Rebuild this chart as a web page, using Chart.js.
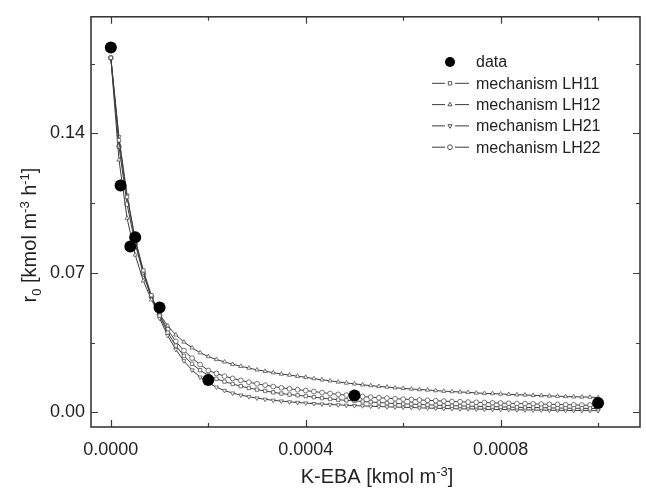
<!DOCTYPE html>
<html>
<head>
<meta charset="utf-8">
<title>r0 vs K-EBA</title>
<script src="https://cdn.jsdelivr.net/npm/chart.js@4.4.1/dist/chart.umd.min.js"></script>
<style>
  html, body { margin: 0; padding: 0; background: #fff; }
  #wrap { width: 646px; height: 488px; }
</style>
</head>
<body>
<div id="wrap"><canvas id="chart" width="646" height="488"></canvas></div>
<script>
// ---------------------------------------------------------------
// measured points (K-EBA, r0)
// ---------------------------------------------------------------
const dataX = [0, 0.00002, 0.00004, 0.00005, 0.0001, 0.0002, 0.0005, 0.001];
const dataY = [0.1832, 0.1139, 0.0833, 0.0879, 0.0526, 0.0162, 0.0084, 0.0046];

// x positions of the model curves (one marker every ~1.67e-5)
const modelX = [
  0, 0.0000167, 0.0000333, 0.00005, 0.0000667, 0.0000833, 0.0001, 0.0001167, 0.0001333, 0.00015,
  0.0001667, 0.0001833, 0.0002, 0.0002167, 0.0002333, 0.00025, 0.0002667, 0.0002833, 0.0003, 0.0003167,
  0.0003333, 0.00035, 0.0003667, 0.0003833, 0.0004, 0.0004167, 0.0004333, 0.00045, 0.0004667, 0.0004833,
  0.0005, 0.0005167, 0.0005333, 0.00055, 0.0005667, 0.0005833, 0.0006, 0.0006167, 0.0006333, 0.00065,
  0.0006667, 0.0006833, 0.0007, 0.0007167, 0.0007333, 0.00075, 0.0007667, 0.0007833, 0.0008, 0.0008167,
  0.0008333, 0.00085, 0.0008667, 0.0008833, 0.0009, 0.0009167, 0.0009333, 0.00095, 0.0009667, 0.0009833,
  0.001
];

// model curves
const lh11 = [
  0.1780, 0.1366, 0.1081, 0.0870, 0.0712, 0.0588, 0.0485, 0.0400, 0.0335, 0.0283,
  0.0243, 0.0211, 0.0185, 0.0168, 0.0154, 0.0142, 0.0131, 0.0122, 0.0114, 0.0107,
  0.0100, 0.0094, 0.0089, 0.0085, 0.0081, 0.0076, 0.0071, 0.0067, 0.0063, 0.0060,
  0.0057, 0.0054, 0.0051, 0.0049, 0.0046, 0.0044, 0.0042, 0.0041, 0.0039, 0.0037,
  0.0036, 0.0034, 0.0033, 0.0032, 0.0031, 0.0030, 0.0029, 0.0028, 0.0027, 0.0026,
  0.0025, 0.0024, 0.0024, 0.0023, 0.0022, 0.0021, 0.0021, 0.0020, 0.0020, 0.0019,
  0.0019
];
const lh12 = [
  0.1780, 0.1268, 0.0975, 0.0790, 0.0660, 0.0565, 0.0492, 0.0434, 0.0389, 0.0353,
  0.0324, 0.0299, 0.0280, 0.0265, 0.0253, 0.0241, 0.0231, 0.0222, 0.0213, 0.0206,
  0.0199, 0.0192, 0.0187, 0.0181, 0.0176, 0.0169, 0.0163, 0.0158, 0.0152, 0.0147,
  0.0143, 0.0138, 0.0134, 0.0130, 0.0127, 0.0123, 0.0120, 0.0117, 0.0114, 0.0112,
  0.0109, 0.0106, 0.0104, 0.0102, 0.0100, 0.0097, 0.0095, 0.0094, 0.0092, 0.0090,
  0.0088, 0.0087, 0.0085, 0.0084, 0.0082, 0.0081, 0.0079, 0.0078, 0.0077, 0.0076,
  0.0074
];
const lh21 = [
  0.1780, 0.1383, 0.1090, 0.0868, 0.0700, 0.0572, 0.0472, 0.0385, 0.0315, 0.0258,
  0.0212, 0.0176, 0.0148, 0.0126, 0.0109, 0.0096, 0.0086, 0.0078, 0.0071, 0.0065,
  0.0060, 0.0056, 0.0052, 0.0049, 0.0046, 0.0043, 0.0041, 0.0039, 0.0037, 0.0035,
  0.0033, 0.0032, 0.0030, 0.0029, 0.0027, 0.0026, 0.0025, 0.0024, 0.0022, 0.0021,
  0.0020, 0.0019, 0.0018, 0.0017, 0.0017, 0.0016, 0.0015, 0.0014, 0.0014, 0.0013,
  0.0012, 0.0012, 0.0011, 0.0011, 0.0010, 0.00097, 0.00093, 0.00089, 0.00085, 0.00081,
  0.00078
];
const lh22 = [
  0.1780, 0.1335, 0.1045, 0.0845, 0.0695, 0.0580, 0.0490, 0.0415, 0.0356, 0.0310,
  0.0272, 0.0240, 0.0210, 0.0195, 0.0181, 0.0170, 0.0160, 0.0151, 0.0143, 0.0136,
  0.0129, 0.0123, 0.0118, 0.0113, 0.0109, 0.0104, 0.0099, 0.0094, 0.0090, 0.0086,
  0.0083, 0.0079, 0.0076, 0.0073, 0.0071, 0.0068, 0.0066, 0.0064, 0.0062, 0.0060,
  0.0058, 0.0056, 0.0054, 0.0053, 0.0051, 0.0050, 0.0049, 0.0047, 0.0046, 0.0045,
  0.0044, 0.0043, 0.0042, 0.0041, 0.0040, 0.0039, 0.0038, 0.0037, 0.0036, 0.0036,
  0.0035
];

const legendLabels = ['data', 'mechanism LH11', 'mechanism LH12', 'mechanism LH21', 'mechanism LH22'];

// tick positions
const xMajor = [0, 0.0004, 0.0008];
const xMinor = [0.0002, 0.0006, 0.001];
const yMajor = [0, 0.07, 0.14];
const yMinor = [0.035, 0.105, 0.175];

const FONT = '"Liberation Sans", Arial, Helvetica, sans-serif';
const INK = '#3a3a3a';

function pairs(xs, ys) {
  return ys.map((v, i) => ({ x: xs[i], y: v }));
}

function modelSet(label, values, style, rotation) {
  return {
    label: label,
    data: pairs(modelX, values),
    borderColor: '#3c3c3c',
    borderWidth: 1,
    pointStyle: style,
    pointRotation: rotation || 0,
    pointRadius: 2.4,
    pointBorderWidth: 0.8,
    pointBorderColor: '#555',
    pointBackgroundColor: '#fff',
    tension: 0,
    order: 1
  };
}

// frame + inward ticks on all four sides
const frameTicks = {
  id: 'frameTicks',
  beforeDatasetsDraw(chart) {
    const { ctx, chartArea: a, scales: { x, y } } = chart;
    ctx.save();
    ctx.strokeStyle = INK;
    ctx.lineWidth = 1.6;
    ctx.strokeRect(a.left, a.top, a.right - a.left, a.bottom - a.top);
    ctx.lineWidth = 1.2;
    ctx.beginPath();
    const xt = (v, len) => {
      const p = Math.round(x.getPixelForValue(v)) + 0.5;
      ctx.moveTo(p, a.bottom); ctx.lineTo(p, a.bottom - len);
      ctx.moveTo(p, a.top); ctx.lineTo(p, a.top + len);
    };
    const yt = (v, len) => {
      const p = Math.round(y.getPixelForValue(v)) + 0.5;
      ctx.moveTo(a.left, p); ctx.lineTo(a.left + len, p);
      ctx.moveTo(a.right, p); ctx.lineTo(a.right - len, p);
    };
    xMajor.forEach(v => xt(v, 7));
    xMinor.forEach(v => xt(v, 4));
    yMajor.forEach(v => yt(v, 7));
    yMinor.forEach(v => yt(v, 4));
    ctx.stroke();
    ctx.restore();
  }
};

// writes a run of [text, size, shift] pieces starting at x (baseline y)
function drawRuns(ctx, runs, x, y) {
  runs.forEach(r => {
    ctx.font = r[1] + 'px ' + FONT;
    ctx.fillText(r[0], x, y + r[2]);
    x += ctx.measureText(r[0]).width;
  });
}
function runsWidth(ctx, runs) {
  let w = 0;
  runs.forEach(r => { ctx.font = r[1] + 'px ' + FONT; w += ctx.measureText(r[0]).width; });
  return w;
}

// axis titles with sub/superscripts
const axisTitles = {
  id: 'axisTitles',
  afterDraw(chart) {
    const ctx = chart.ctx;
    ctx.save();
    ctx.fillStyle = '#222';
    ctx.textBaseline = 'alphabetic';
    ctx.textAlign = 'left';

    const xRuns = [['K-EBA [kmol m', 20, 0], ['-3', 13, -7], [']', 20, 0]];
    const xw = runsWidth(ctx, xRuns);
    drawRuns(ctx, xRuns, 377 - xw / 2, 483);

    const yRuns = [['r', 20, 0], ['0', 13, 5], [' [kmol m', 20, 0], ['-3', 13, -7],
                   [' h', 20, 0], ['-1', 13, -7], [']', 20, 0]];
    const yw = runsWidth(ctx, yRuns);
    ctx.translate(36, 235);
    ctx.rotate(-Math.PI / 2);
    drawRuns(ctx, yRuns, -yw / 2, 0);
    ctx.restore();
  }
};

// legend drawn inside the plot, top right
const insideLegend = {
  id: 'insideLegend',
  afterDraw(chart) {
    const ctx = chart.ctx;
    const sets = chart.data.datasets;
    const cx = 450, tx = 476, y0 = 62, step = 21.3;
    ctx.save();
    ctx.font = '16px ' + FONT;
    ctx.textBaseline = 'middle';
    ctx.textAlign = 'left';
    legendLabels.forEach((lab, i) => {
      const ds = sets[i];
      const yy = y0 + i * step;
      if (i > 0) {
        ctx.strokeStyle = '#3c3c3c';
        ctx.lineWidth = 1;
        ctx.beginPath();
        ctx.moveTo(432, yy); ctx.lineTo(445, yy);
        ctx.moveTo(455, yy); ctx.lineTo(469, yy);
        ctx.stroke();
      }
      ctx.fillStyle = ds.pointBackgroundColor;
      ctx.strokeStyle = ds.pointBorderColor;
      Chart.helpers.drawPoint(ctx, {
        pointStyle: ds.pointStyle,
        radius: i === 0 ? 5 : 2.4,
        rotation: ds.pointRotation || 0,
        borderWidth: ds.pointBorderWidth
      }, cx, yy);
      ctx.fillStyle = '#222';
      ctx.fillText(lab, tx, yy + 1);
    });
    ctx.restore();
  }
};

Chart.defaults.font.family = FONT;
Chart.defaults.color = '#222';

new Chart(document.getElementById('chart'), {
  type: 'line',
  data: {
    datasets: [
      {
        label: legendLabels[0],
        data: pairs(dataX, dataY),
        showLine: false,
        pointStyle: 'circle',
        pointRadius: 6,
        pointBorderWidth: 0,
        pointBackgroundColor: '#000',
        pointBorderColor: '#000',
        order: 0
      },
      modelSet(legendLabels[1], lh11, 'rect', 0),
      modelSet(legendLabels[2], lh12, 'triangle', 0),
      modelSet(legendLabels[3], lh21, 'triangle', 180),
      modelSet(legendLabels[4], lh22, 'circle', 0)
    ]
  },
  options: {
    responsive: false,
    devicePixelRatio: 1,
    animation: false,
    layout: { padding: { top: 12, right: 1, left: 0, bottom: 0 } },
    plugins: { legend: { display: false }, tooltip: { enabled: false } },
    scales: {
      x: {
        type: 'linear',
        min: -0.0000407,
        max: 0.001086,
        grid: { display: false, drawTicks: false },
        border: { display: false },
        afterFit: s => { s.height = 61; },
        afterBuildTicks: s => { s.ticks = xMajor.map(v => ({ value: v })); },
        ticks: {
          font: { size: 18 },
          color: '#222',
          padding: 12,
          maxRotation: 0,
          callback: v => v.toFixed(4)
        }
      },
      y: {
        type: 'linear',
        min: -0.0074,
        max: 0.1986,
        grid: { display: false, drawTicks: false },
        border: { display: false },
        afterFit: s => { s.width = 91; },
        afterBuildTicks: s => { s.ticks = yMajor.map(v => ({ value: v })); },
        ticks: {
          font: { size: 18 },
          color: '#222',
          padding: 6,
          callback: v => v.toFixed(2)
        }
      }
    }
  },
  plugins: [frameTicks, axisTitles, insideLegend]
});
</script>
</body>
</html>
